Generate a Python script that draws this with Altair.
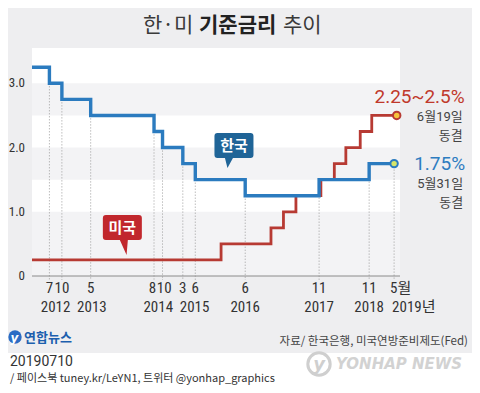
import altair as alt
import numpy as np
import pandas as pd

# ---------------- data ----------------
KR_DATES = ["2012-03-07", "2012-07-12", "2012-10-11", "2013-05-09", "2014-08-14",
            "2014-10-15", "2015-03-12", "2015-06-11", "2016-06-09", "2017-11-30",
            "2018-11-30", "2019-05-31"]
KR_RATES = [3.25, 3.00, 2.75, 2.50, 2.25, 2.00, 1.75, 1.50, 1.25, 1.50, 1.75, 1.75]

US_DATES = ["2012-03-07", "2015-12-16", "2016-12-14", "2017-03-15", "2017-06-14",
            "2017-12-13", "2018-03-21", "2018-06-13", "2018-09-26", "2018-12-19",
            "2019-06-19"]
US_RATES = [0.25, 0.50, 0.75, 1.00, 1.25, 1.50, 1.75, 2.00, 2.25, 2.50, 2.50]

TICK_MONTHS = ["7", "10", "5", "8", "10", "3", "6", "6", "11", "11", "5"]
Y_TICKS = [0, 1, 2, 3]
BAND_LOW = [0.0, 1.5, 2.5]
BAND_HIGH = [1.0, 2.0, 3.0]

TITLE_PARTS = ["한·미", "기준금리", "추이"]
SOURCE = "자료/ 한국은행, 미국연방준비제도(Fed)"
DATE_STAMP = "20190710"
SNS = "/ 페이스북 tuney.kr/LeYN1, 트위터 @yonhap_graphics"

# ---------------- layout ----------------
W, H = 368, 228
BG = "#eeeef0"
BAND = "#f3f3f5"
KR_LINE = "#2b7bbf"
KR_BOX = "#1f6497"
US_LINE = "#b73a33"
US_BOX = "#c1272d"
TXT = "#333333"
NUM_FONT = "Roboto, Noto Sans CJK KR"
AX_FONT = "Liberation Sans Narrow, Roboto Condensed, Roboto, Noto Sans CJK KR"
KR_FONT = "Noto Sans CJK KR"

xscale = alt.Scale(domain=[alt.DateTime(year=2012, month=3, date=7),
                           alt.DateTime(year=2019, month=7, date=13)], nice=False)
yscale = alt.Scale(domain=[0, 3.55], nice=False, zero=False)

kr = pd.DataFrame({"date": KR_DATES, "rate": KR_RATES})
us = pd.DataFrame({"date": US_DATES, "rate": US_RATES})

tk = pd.DataFrame({"date": KR_DATES[1:], "rate": KR_RATES[1:], "month": TICK_MONTHS})
tk["dt"] = pd.to_datetime(tk["date"])
prev_gap = tk["dt"].diff().dt.days.fillna(999)
next_gap = (-tk["dt"].diff(-1).dt.days).fillna(999)
shift = np.where(next_gap < 80, -12, 0) + np.where(prev_gap < 80, 12, 0)
tk["label_at"] = (tk["dt"] + pd.to_timedelta(shift, unit="D")).dt.strftime("%Y-%m-%d")
tk["year"] = tk["dt"].dt.year

last_year = tk["year"].max()
mid = tk[tk["year"] < last_year]
months_main = mid[["label_at", "month"]]
years_main = (mid.groupby("year")["dt"].mean().reset_index())
# keep neighbouring year labels from touching
centers = list(years_main["dt"])
for i in range(1, len(centers)):
    if (centers[i] - centers[i - 1]).days < 265:
        centers[i] = centers[i - 1] + pd.Timedelta(days=265)
years_main["dt"] = centers
years_main["at"] = years_main["dt"].dt.strftime("%Y-%m-%d")
years_main["label"] = years_main["year"].astype(str)
last_tick = tk[tk["year"] == last_year].copy()
last_tick["mlabel"] = last_tick["month"] + "월"
last_tick["ylabel"] = last_tick["year"].astype(str) + "년"

X = lambda f: alt.X(f, type="temporal", scale=xscale, axis=None)
Y = lambda f: alt.Y(f, type="quantitative", scale=yscale, axis=None)

one = pd.DataFrame({"k": [0]})


def note(text, x, y, **kw):
    return alt.Chart(pd.DataFrame({"t": [text]})).mark_text(**kw).encode(
        x=alt.value(x), y=alt.value(y), text="t:N")


layers = []

# bands
bands = pd.DataFrame({"lo": BAND_LOW, "hi": BAND_HIGH})
layers.append(alt.Chart(bands).mark_rect(color=BAND).encode(
    y=Y("lo"), y2="hi", x=alt.value(0), x2=alt.value(W)))

# dotted guides
layers.append(alt.Chart(tk).mark_rule(color="#9c9c9c", strokeDash=[1, 2], strokeWidth=1).encode(
    x=X("date"), y=Y("rate"), y2=alt.value(H + 4)))

# baseline
layers.append(alt.Chart(one).mark_rule(color="#8a8a8a", strokeWidth=1).encode(
    x=alt.value(0), x2=alt.value(W), y=alt.value(H)))

# y labels
yl = pd.DataFrame({"v": Y_TICKS})
layers.append(alt.Chart(yl).transform_calculate(
    lab="datum.v == 0 ? '0' : format(datum.v, '.1f')").mark_text(
    align="right", baseline="middle", font=AX_FONT, fontSize=13, color=TXT).encode(
    x=alt.value(-7), y=Y("v"), text="lab:N"))

# lines
layers.append(alt.Chart(us).mark_line(interpolate="step-after", color=US_LINE, strokeWidth=2.8).encode(
    x=X("date"), y=Y("rate")))
layers.append(alt.Chart(kr).mark_line(interpolate="step-after", color=KR_LINE, strokeWidth=3.4).encode(
    x=X("date"), y=Y("rate")))

# end points
us_last = us.tail(1).copy()
kr_last = kr.tail(1).copy()
layers.append(alt.Chart(us_last).mark_circle(size=55, fill="#f6c43c", stroke=US_LINE,
                                             strokeWidth=2, opacity=1).encode(x=X("date"), y=Y("rate")))
layers.append(alt.Chart(kr_last).mark_circle(size=55, fill="#d6e66a", stroke=KR_LINE,
                                             strokeWidth=2, opacity=1).encode(x=X("date"), y=Y("rate")))

# end labels
us_last["big"] = us_last["rate"].map(lambda r: f"{r - 0.25:g}~{r:g}%")
us_last["day"] = pd.to_datetime(us_last["date"]).map(lambda d: f"{d.month}월{d.day}일")
kr_last["big"] = kr_last["rate"].map(lambda r: f"{r:g}%")
kr_last["day"] = pd.to_datetime(kr_last["date"]).map(lambda d: f"{d.month}월{d.day}일")
for df, col, dxb, dyb in [(us_last, "#c0392b", 68, -18), (kr_last, "#2d7cc0", 71, 0)]:
    layers.append(alt.Chart(df).mark_text(align="right", baseline="middle", font=NUM_FONT,
                                          fontSize=19, color=col, dx=dxb, dy=dyb).encode(
        x=X("date"), y=Y("rate"), text="big:N"))
    layers.append(alt.Chart(df).mark_text(align="right", baseline="middle", font=NUM_FONT,
                                          fontSize=13, color="#444444", dx=dxb - 2, dy=dyb + 20).encode(
        x=X("date"), y=Y("rate"), text="day:N"))
    layers.append(alt.Chart(df).mark_text(align="right", baseline="middle", font=KR_FONT,
                                          fontSize=13, color="#444444", dx=dxb - 2, dy=dyb + 39).encode(
        x=X("date"), y=Y("rate"), text=alt.value("동결")))

# callouts
KR_PATH = ("M-16.5,-12.5 L16.5,-12.5 Q19.5,-12.5 19.5,-9.5 L19.5,9.5 Q19.5,12.5 16.5,12.5 "
           "L-1,12.5 L-6.5,22.5 L-9,12.5 L-16.5,12.5 Q-19.5,12.5 -19.5,9.5 L-19.5,-9.5 "
           "Q-19.5,-12.5 -16.5,-12.5 Z")
US_PATH = ("M-16.5,-12.5 L16.5,-12.5 Q19.5,-12.5 19.5,-9.5 L19.5,9.5 Q19.5,12.5 16.5,12.5 "
           "L5.5,12.5 L4.2,27.5 L-2.5,12.5 L-16.5,12.5 Q-19.5,12.5 -19.5,9.5 L-19.5,-9.5 "
           "Q-19.5,-12.5 -16.5,-12.5 Z")
callouts = [("한국", "2016-03-19", 2.03, KR_PATH, KR_BOX),
            ("미국", "2013-12-26", 0.755, US_PATH, US_BOX)]
for name, d, v, path, col in callouts:
    cdf = pd.DataFrame({"date": [d], "rate": [v], "name": [name]})
    layers.append(alt.Chart(cdf).mark_point(shape=path, size=4, filled=True, color=col,
                                            opacity=1).encode(x=X("date"), y=Y("rate")))
    layers.append(alt.Chart(cdf).mark_text(font=KR_FONT, fontSize=15, fontWeight="bold",
                                           color="white", baseline="middle").encode(
        x=X("date"), y=Y("rate"), text="name:N"))

# x labels
AXS = 15
layers.append(alt.Chart(months_main).mark_text(font=AX_FONT, fontSize=AXS, color=TXT,
                                               baseline="middle").encode(
    x=X("label_at"), y=alt.value(H + 12), text="month:N"))
layers.append(alt.Chart(years_main).mark_text(font=AX_FONT, fontSize=AXS, color=TXT,
                                              baseline="middle").encode(
    x=X("at"), y=alt.value(H + 31), text="label:N"))
layers.append(alt.Chart(last_tick).mark_text(font=AX_FONT, fontSize=AXS, color=TXT,
                                             baseline="middle", align="left", dx=-4).encode(
    x=X("label_at"), y=alt.value(H + 12), text="mlabel:N"))
layers.append(alt.Chart(last_tick).mark_text(font=AX_FONT, fontSize=AXS, color=TXT,
                                             baseline="middle", align="left", dx=-2).encode(
    x=X("label_at"), y=alt.value(H + 31), text="ylabel:N"))

# title
layers.append(note(TITLE_PARTS[0], 111, -22, font=KR_FONT, fontSize=21, color="#3a3a3a",
                   align="left", baseline="middle"))
layers.append(note(TITLE_PARTS[1], 167, -22, font=KR_FONT, fontSize=21, fontWeight="bold",
                   color="#222222", align="left", baseline="middle"))
layers.append(note(TITLE_PARTS[2], 251, -22, font=KR_FONT, fontSize=21, color="#3a3a3a",
                   align="left", baseline="middle"))

# footer
layers.append(alt.Chart(one).mark_rect(color="white").encode(
    x=alt.value(-24), x2=alt.value(W + 72), y=alt.value(305), y2=alt.value(H + 109)))
layers.append(alt.Chart(one).mark_circle(size=180, color="#2b6cc4", opacity=1).encode(
    x=alt.value(-17), y=alt.value(289)))
layers.append(note("y", -17.5, 289.5, font="DejaVu Sans", fontSize=12, fontStyle="italic",
                   fontWeight="bold", color="white", baseline="middle"))
layers.append(note("연합뉴스", -8, 290, font=KR_FONT, fontSize=13, fontWeight="bold",
                   color="#1c5fae", align="left", baseline="middle"))
layers.append(note(SOURCE, 436, 294, font=KR_FONT, fontSize=11.5, color="#444444",
                   align="right", baseline="middle"))
layers.append(alt.Chart(one).mark_circle(size=500, fill="white", stroke="#cfcfcf",
                                         strokeWidth=3, opacity=1).encode(
    x=alt.value(287), y=alt.value(316)))
layers.append(note("y", 287, 317, font="DejaVu Sans", fontSize=18, fontStyle="italic",
                   fontWeight="bold", color="#cfcfcf", baseline="middle"))
layers.append(note("YONHAP NEWS", 304, 316, font="DejaVu Sans", fontSize=15,
                   fontStyle="italic", fontWeight="bold", color="#d2d2d2",
                   align="left", baseline="middle"))
layers.append(note(DATE_STAMP, -22, 314, font=NUM_FONT, fontSize=14, color=TXT,
                   align="left", baseline="middle"))
layers.append(note(SNS, -22, 331, font=KR_FONT, fontSize=11, color=TXT,
                   align="left", baseline="middle"))

chart = alt.layer(*layers).properties(
    width=W, height=H,
    autosize=alt.AutoSizeParams(type="none"),
    padding={"left": 24, "top": 40, "right": 72, "bottom": 109},
    background=BG,
).configure_view(stroke=None, fill="white")

chart.save("out.html", embed_options={"renderer": "svg", "actions": False})
